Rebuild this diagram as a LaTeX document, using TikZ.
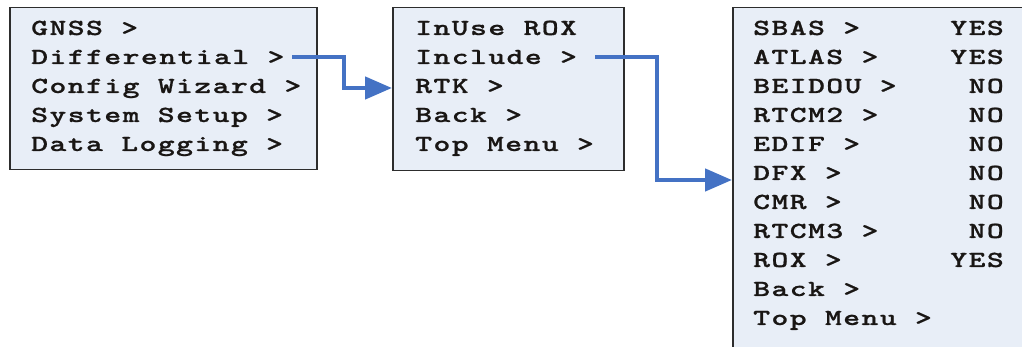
\documentclass[tikz,border=0pt]{standalone}
\usepackage{fontspec}
\newfontfamily\menufont[FakeStretch=1.4,LetterSpace=6,FakeBold=0.8]{lmmonolt10-bold.otf}
\usetikzlibrary{arrows.meta}
\definecolor{boxfill}{RGB}{232,238,247}
\definecolor{boxline}{RGB}{45,45,45}
\definecolor{arrblue}{RGB}{68,114,196}
\definecolor{txt}{RGB}{25,22,20}
\begin{document}
\begin{tikzpicture}[x=1pt,y=1pt,
  menubox/.style={draw=boxline,fill=boxfill,line width=1.5pt,inner sep=0pt,anchor=north west},
  item/.style={font=\menufont\fontsize{23}{23}\selectfont,text=txt,inner sep=0pt,anchor=base west},
  val/.style={font=\menufont\fontsize{23}{23}\selectfont,text=txt,inner sep=0pt,anchor=base east},
  arr/.style={draw=arrblue,line width=4.5pt,-{Triangle[length=27pt,width=22pt]}}]
\useasboundingbox (0,0) rectangle (1022,347);
\fill[white] (0,0) rectangle (1022,347);
% boxes
\node[menubox,minimum width=307pt,minimum height=162pt] (b1) at (9,340) {};
\node[menubox,minimum width=231pt,minimum height=163pt] (b2) at (392,340) {};
\begin{scope}
\clip (0,0) rectangle (1022,347);
\node[menubox,minimum width=310pt,minimum height=360pt] (b3) at (732,340) {};
\end{scope}
% box 1
\node[item] (gnss) at (31,312) {GNSS >};
\node[item] (dif) at (31,283) {Differential >};
\node[item] (cfg) at (31,254) {Config Wizard >};
\node[item] (sys) at (31,225) {System Setup >};
\node[item] (log) at (31,196) {Data Logging >};
% box 2
\node[item] (inuse) at (415,312) {InUse ROX};
\node[item] (inc) at (415,283) {Include >};
\node[item] (rtk) at (415,254) {RTK >};
\node[item] (back2) at (415,225) {Back >};
\node[item] (top2) at (415,196) {Top Menu >};
% box 3
\node[item] (sbas) at (753,312) {SBAS >};
\node[item] (atlas) at (753,283) {ATLAS >};
\node[item] (beidou) at (753,254) {BEIDOU >};
\node[item] (rtcm2) at (753,225) {RTCM2 >};
\node[item] (edif) at (753,196) {EDIF >};
\node[item] (dfx) at (753,167) {DFX >};
\node[item] (cmr) at (753,138) {CMR >};
\node[item] (rtcm3) at (753,109) {RTCM3 >};
\node[item] (rox) at (753,80) {ROX >};
\node[item] (back3) at (753,51) {Back >};
\node[item] (top3) at (753,22) {Top Menu >};
\node[val] (vsbas) at (1004,312) {YES};
\node[val] (vatlas) at (1004,283) {YES};
\node[val] (vbeidou) at (1004,254) {NO};
\node[val] (vrtcm2) at (1004,225) {NO};
\node[val] (vedif) at (1004,196) {NO};
\node[val] (vdfx) at (1004,167) {NO};
\node[val] (vcmr) at (1004,138) {NO};
\node[val] (vrtcm3) at (1004,109) {NO};
\node[val] (vrox) at (1004,80) {YES};
% connectors
\coordinate (s1) at (292,290);
\coordinate (e1) at (392,259);
\coordinate (s2) at (595,290);
\coordinate (e2) at (732,167);
\draw[arr] (s1) -- (344,290) |- (e1);
\draw[arr] (s2) -- (657,290) |- (e2);
\end{tikzpicture}
\end{document}
